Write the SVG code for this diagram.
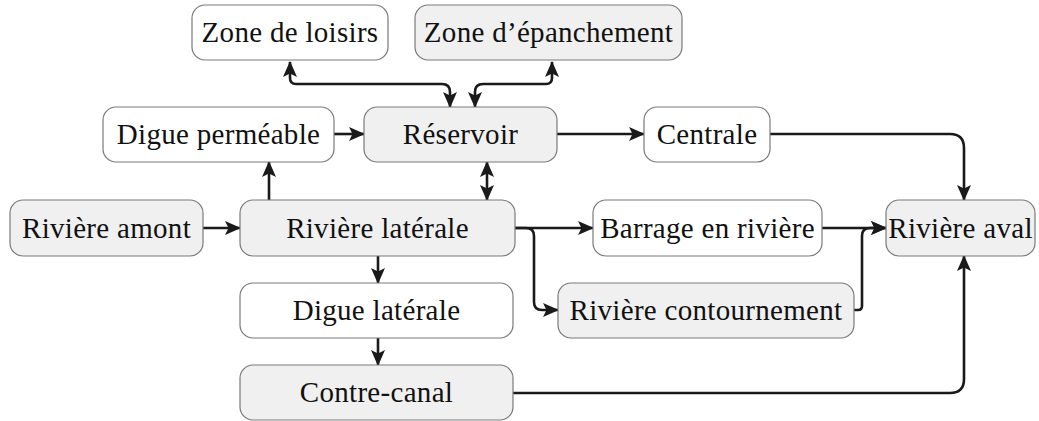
<svg xmlns="http://www.w3.org/2000/svg" width="1039" height="421" viewBox="0 0 1039 421">
<defs>
<marker id="ah" viewBox="0 0 16 14" refX="15" refY="7" markerWidth="16" markerHeight="14" markerUnits="userSpaceOnUse" orient="auto-start-reverse">
<path d="M0,0 L16,7 L0,14 L3.5,7 Z" fill="#1a1a1a"/>
</marker>
<style>
.n rect{stroke:#7a7a7a;stroke-width:1.2}
.w rect{fill:#ffffff}
.g rect{fill:#f0f0f0}
.n text{font-family:"Liberation Serif",serif;font-size:29px;letter-spacing:0.3px;fill:#111;text-anchor:middle;dominant-baseline:central}
#edges path{fill:none;stroke:#1a1a1a;stroke-width:2.6}
</style>
</defs>
<rect width="1039" height="421" fill="#fff"/>
<g id="edges">
<path d="M290,62 V78 Q290,84 296,84 H442 Q450,84 450,92 V107" marker-start="url(#ah)" marker-end="url(#ah)"/>
<path d="M552,62 V78 Q552,84 546,84 H483 Q475,84 475,92 V107" marker-start="url(#ah)" marker-end="url(#ah)"/>
<path d="M334,134 H364" marker-end="url(#ah)"/>
<path d="M557,134 H644" marker-end="url(#ah)"/>
<path d="M770,134 H950 Q964,134 964,148 V200" marker-end="url(#ah)"/>
<path d="M487,162 V200" marker-start="url(#ah)" marker-end="url(#ah)"/>
<path d="M269,200 V162" marker-end="url(#ah)"/>
<path d="M203,228 H240" marker-end="url(#ah)"/>
<path d="M515,228 H593" marker-end="url(#ah)"/>
<path d="M515,228 H526 Q534,228 534,236 V302 Q534,310 542,310 H558" marker-end="url(#ah)"/>
<path d="M822,228 H886" marker-end="url(#ah)"/>
<path d="M854,310 H858 Q862,310 862,306 V236 Q862,228 870,228 H886" marker-end="url(#ah)"/>
<path d="M378,256 V283" marker-end="url(#ah)"/>
<path d="M378,338 V365" marker-end="url(#ah)"/>
<path d="M513,393 H950 Q964,393 964,379 V256" marker-end="url(#ah)"/>
</g>
<g id="zone-loisirs" class="n w"><rect x="192" y="5" width="196" height="55" rx="13"/><text x="290" y="32">Zone de loisirs</text></g>
<g id="zone-epanchement" class="n g"><rect x="415" y="5" width="267" height="55" rx="13"/><text x="548.5" y="32">Zone d’épanchement</text></g>
<g id="digue-permeable" class="n w"><rect x="103" y="107" width="231" height="55" rx="13"/><text x="218.5" y="134">Digue perméable</text></g>
<g id="reservoir" class="n g"><rect x="364" y="107" width="193" height="55" rx="13"/><text x="460.5" y="134">Réservoir</text></g>
<g id="centrale" class="n w"><rect x="644" y="107" width="126" height="55" rx="13"/><text x="707" y="134">Centrale</text></g>
<g id="riviere-amont" class="n g"><rect x="10" y="200" width="193" height="56" rx="13"/><text x="106.5" y="227.5">Rivière amont</text></g>
<g id="riviere-laterale" class="n g"><rect x="240" y="200" width="275" height="56" rx="13"/><text x="377.5" y="227.5">Rivière latérale</text></g>
<g id="barrage" class="n w"><rect x="593" y="200" width="229" height="56" rx="13"/><text x="707.5" y="227.5">Barrage en rivière</text></g>
<g id="riviere-aval" class="n g"><rect x="886" y="200" width="149" height="56" rx="13"/><text x="960.5" y="227.5">Rivière aval</text></g>
<g id="digue-laterale" class="n w"><rect x="240" y="283" width="273" height="55" rx="13"/><text x="376.5" y="310">Digue latérale</text></g>
<g id="riviere-contournement" class="n g"><rect x="558" y="283" width="296" height="55" rx="13"/><text x="706" y="310">Rivière contournement</text></g>
<g id="contre-canal" class="n g"><rect x="240" y="365" width="273" height="55" rx="13"/><text x="376.5" y="392">Contre-canal</text></g>
</svg>
